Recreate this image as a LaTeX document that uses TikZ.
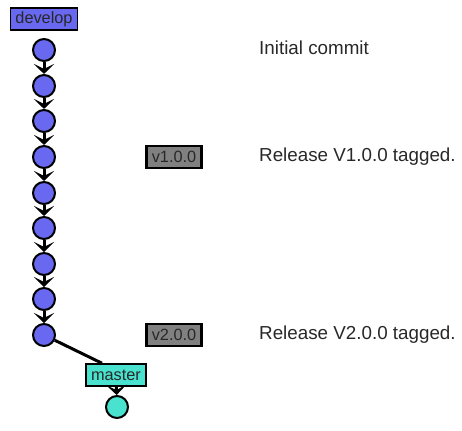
\documentclass[tikz,border=0pt]{standalone}
\usepackage{fontspec}
\setmainfont{Liberation Sans}
\usetikzlibrary{arrows.meta}
\definecolor{devc}{RGB}{104,104,240}
\definecolor{masc}{RGB}{72,226,206}
\definecolor{tagc}{RGB}{128,128,128}
\definecolor{txtc}{RGB}{40,40,40}
\tikzset{
  commit/.style={circle,draw=black,line width=2pt,minimum size=22pt,inner sep=0pt},
  dev/.style={commit,fill=devc},
  mas/.style={commit,fill=masc},
  branchlbl/.style={draw=black,line width=1.5pt,inner sep=0pt,minimum height=22pt,text=txtc,font=\fontsize{16.3pt}{17pt}\selectfont},
  tag/.style={draw=black,line width=2.2pt,fill=tagc,text=txtc,inner sep=0pt,minimum width=55pt,minimum height=22pt,font=\fontsize{16.3pt}{17pt}\selectfont},
  note/.style={anchor=west,inner sep=0pt,text=txtc,font=\fontsize{18.8pt}{20pt}\selectfont},
  link/.style={line width=3pt,-{Stealth[length=10pt,width=20pt,inset=5pt]}},
}
\begin{document}
\begin{tikzpicture}[x=1pt,y=-1pt]
\useasboundingbox (0,0) rectangle (462,430);
\node[branchlbl,fill=devc,minimum width=67pt] (develop) at (44,19) {develop};
\foreach \i/\y in {1/50,2/86,3/121,4/157,5/193,6/228,7/264,8/299,9/335}
  \node[dev] (c\i) at (44,\y) {};
\foreach \a/\b in {1/2,2/3,3/4,4/5,5/6,6/7,7/8,8/9}
  \draw[link] (c\a) -- (c\b);
\node[branchlbl,fill=masc,minimum width=60pt] (master) at (116,375) {master};
\node[mas] (m1) at (117,407) {};
\draw[line width=3pt] (c9) -- ([xshift=-14pt]master.north);
\draw[link] (master) -- (m1);
\node[tag] (t1) at (174,157) {v1.0.0};
\node[tag] (t2) at (174,335) {v2.0.0};
\node[note] (n1) at (259,48) {Initial commit};
\node[note] (n2) at (259,157) {Release V1.0.0 tagged.};
\node[note] (n3) at (259,335) {Release V2.0.0 tagged.};
\end{tikzpicture}
\end{document}
